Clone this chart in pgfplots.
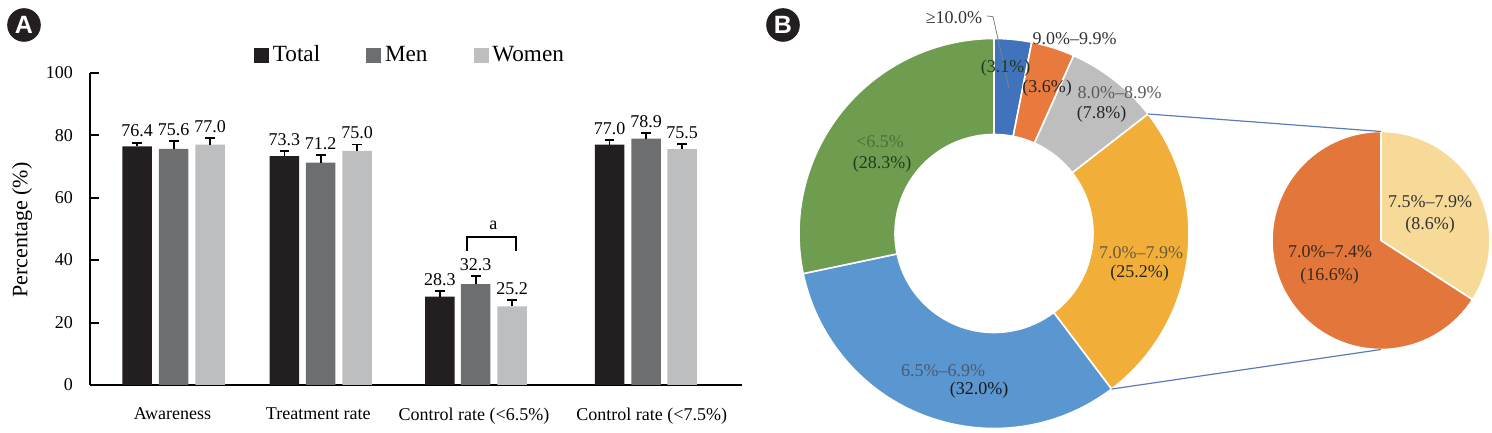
\documentclass[border=0pt]{standalone}
\usepackage{fontspec}
\setmainfont{Liberation Serif}
\newfontfamily\badgefont{Liberation Sans}
\usepackage{pgfplots}
\usepackage{pgfplotstable}
\pgfplotsset{compat=1.18}

\definecolor{cTotal}{HTML}{231F20}
\definecolor{cMen}{HTML}{6D6E70}
\definecolor{cWomen}{HTML}{BDBEC0}
\definecolor{cTen}{HTML}{4173BD}
\definecolor{cNine}{HTML}{E77A3C}
\definecolor{cEight}{HTML}{BEBEBE}
\definecolor{cSeven}{HTML}{F1AF3A}
\definecolor{cSixFive}{HTML}{5A97D0}
\definecolor{cLow}{HTML}{6E9D50}
\definecolor{cPieO}{HTML}{E3763A}
\definecolor{cPieY}{HTML}{F7DA98}
\definecolor{cLine}{HTML}{5B7DB5}

% bar data: x position (px of layout), value, upper error
\pgfplotstableread{
x y e
137.2 76.4 1.2
284.4 73.3 1.5
439.9 28.3 1.7
609.5 77.0 1.5
}\totaltab
\pgfplotstableread{
x y e
173.7 75.6 2.5
320.7 71.2 2.35
475.7 32.3 2.6
646.0 78.9 1.9
}\mentab
\pgfplotstableread{
x y e
210.2 77.0 2.1
357.0 75.0 2.0
512.2 25.2 2.1
682.2 75.5 1.7
}\womentab

% donut data (percent)
\def\pA{3.1}\def\pB{3.6}\def\pC{7.8}\def\pD{25.2}\def\pE{32.0}\def\pF{28.3}
\pgfmathsetmacro\aA{90}
\pgfmathsetmacro\aB{\aA-3.6*\pA}
\pgfmathsetmacro\aC{\aB-3.6*\pB}
\pgfmathsetmacro\aD{\aC-3.6*\pC}
\pgfmathsetmacro\aE{\aD-3.6*\pD}
\pgfmathsetmacro\aF{\aE-3.6*\pE}
\pgfmathsetmacro\aG{\aF-3.6*\pF}
% second pie data (percent of total)
\def\qA{8.6}\def\qB{16.6}
\pgfmathsetmacro\bB{90-360*\qA/(\qA+\qB)}
\pgfmathsetmacro\bC{\bB-360*\qB/(\qA+\qB)}

\newcommand\ring[3]{\filldraw[fill=#3, draw=white, line width=0.8pt] (#1:195) arc[start angle=#1, end angle=#2, radius=195] -- (#2:99) arc[start angle=#2, end angle=#1, radius=99] -- cycle;}
\newcommand\sector[3]{\filldraw[fill=#3, draw=white, line width=0.8pt] (0,0) -- (#1:109) arc[start angle=#1, end angle=#2, radius=109] -- cycle;}

\newcommand\fnine{\fontsize{9}{10.8}\selectfont}

\begin{document}
\begin{tikzpicture}
\useasboundingbox (0pt,0pt) rectangle (746pt,216.5pt);

% badges
\fill[cTotal] (12pt,204pt) circle (8.4pt);
\node[text=white, font=\badgefont\bfseries\fontsize{12.5}{12.5}\selectfont] at (12pt,204pt) {A};
\fill[cTotal] (391.5pt,204pt) circle (8.4pt);
\node[text=white, font=\badgefont\bfseries\fontsize{12.5}{12.5}\selectfont] at (391.5pt,204pt) {B};

% ---------------- Panel A ----------------
\begin{axis}[
  at={(45pt,24pt)}, anchor=south west,
  scale only axis, width=326pt, height=156.15pt,
  xmin=90, xmax=742, ymin=0, ymax=100,
  axis x line=bottom, axis y line=left,
  axis line style={line width=1pt, -},
  xtick={172.5,318.3,474,651.7},
  xticklabels={Awareness, Treatment rate, Control rate (<6.5\%), Control rate (<7.5\%)},
  x tick style={draw=none},
  ytick={0,20,40,60,80,100},
  y tick style={line width=1pt, black},
  tick align=inside,
  major tick length=4.5pt,
  xticklabel style={font=\fnine, yshift=-8pt},
  yticklabel style={font=\fnine, xshift=-5pt},
  /pgf/number format/assume math mode=true,
  ylabel={Percentage (\%)},
  ylabel style={font=\fontsize{11}{13}\selectfont, at={(axis description cs:-0.104,0.496)}, anchor=center},
  legend columns=3,
  legend style={draw=none, fill=none, at={(0.4923,1.0567)}, anchor=center,
    font=\fontsize{11.6}{13}\selectfont, /tikz/every even column/.append style={column sep=21pt}},
  clip=false,
]
\addlegendimage{legend image code/.code={\fill[cTotal] (0pt,-3.5pt) rectangle (7pt,3.5pt);}}
\addlegendentry{Total}
\addlegendimage{legend image code/.code={\fill[cMen] (0pt,-3.5pt) rectangle (7pt,3.5pt);}}
\addlegendentry{Men}
\addlegendimage{legend image code/.code={\fill[cWomen] (0pt,-3.5pt) rectangle (7pt,3.5pt);}}
\addlegendentry{Women}

\pgfplotsset{barsty/.style={ybar, bar width=29.5, bar shift=0pt, draw=none, forget plot,
  visualization depends on={\thisrow{e} \as \myerr},
  nodes near coords={\pgfmathprintnumber[fixed,fixed zerofill,precision=1]{\pgfplotspointmeta}},
  nodes near coords style={font=\fnine, text=black, anchor=south, inner sep=1.5pt, yshift={\myerr*1.5615pt+1pt}},
  error bars/y dir=plus, error bars/y explicit,
  error bars/error bar style={draw=black, line width=0.9pt},
  error bars/error mark options={draw=black, line width=0.9pt, mark size=2.4pt, rotate=90}}}

\addplot[barsty, fill=cTotal] table[x=x, y=y, y error=e]{\totaltab};
\addplot[barsty, fill=cMen] table[x=x, y=y, y error=e]{\mentab};
\addplot[barsty, fill=cWomen] table[x=x, y=y, y error=e]{\womentab};

\draw[line width=1pt] (axis cs:467,43) -- (axis cs:467,47.3) -- (axis cs:516,47.3) -- (axis cs:516,43);
\node[font=\fnine] at (axis cs:493.3,51.2) {a};
\end{axis}

% ---------------- Panel B ----------------
\begin{axis}[
  at={(380pt,0pt)}, anchor=south west,
  x=0.5pt, y=0.5pt,
  xmin=760, xmax=1492, ymin=0, ymax=433,
  hide axis, clip=false,
]
\begin{scope}[shift={(axis cs:994,199.5)}, x=0.5pt, y=0.5pt]
\ring{\aA}{\aB}{cTen}
\ring{\aB}{\aC}{cNine}
\ring{\aC}{\aD}{cEight}
\ring{\aD}{\aE}{cSeven}
\ring{\aE}{\aF}{cSixFive}
\ring{\aF}{\aG}{cLow}
\end{scope}
\begin{scope}[shift={(axis cs:1381,192.5)}, x=0.5pt, y=0.5pt]
\sector{90}{\bB}{cPieY}
\sector{\bB}{\bC}{cPieO}
\end{scope}
\draw[cLine, line width=0.6pt] (axis cs:{994+195*cos(\aD)},{199.5+195*sin(\aD)}) -- (axis cs:1381,301.5);
\draw[cLine, line width=0.6pt] (axis cs:{994+195*cos(\aE)},{199.5+195*sin(\aE)}) -- (axis cs:1381,83.5);

% labels
\draw[gray, line width=0.4pt] (axis cs:987,417) -- (axis cs:993,416.3) -- (axis cs:1009,345);
\node[font=\fnine, text=black!80] at (axis cs:954,415) {≥10.0\%};
\node[font=\fnine, text=black!80] at (axis cs:1074.7,394.7) {9.0\%–9.9\%};
\node[font=\fnine, text={rgb,255:red,32;green,53;blue,32}] at (axis cs:1005.7,365) {(3.1\%)};
\node[font=\fnine, text=black!85] at (axis cs:1047,345) {(3.6\%)};
\node[font=\fnine, text=black!65] at (axis cs:1119.5,340) {8.0\%–8.9\%};
\node[font=\fnine, text=black!85] at (axis cs:1101.5,318.7) {(7.8\%)};
\node[font=\fnine, text={rgb,255:red,79;green,111;blue,58}] at (axis cs:880,291.3) {<6.5\%};
\node[font=\fnine, text={rgb,255:red,31;green,61;blue,31}] at (axis cs:882,269) {(28.3\%)};
\node[font=\fnine, text={rgb,255:red,107;green,91;blue,58}] at (axis cs:1141,180.7) {7.0\%–7.9\%};
\node[font=\fnine, text=black!85] at (axis cs:1139.7,160.3) {(25.2\%)};
\node[font=\fnine, text={rgb,255:red,74;green,90;blue,112}] at (axis cs:943,62.3) {6.5\%–6.9\%};
\node[font=\fnine, text=black!90] at (axis cs:979,43) {(32.0\%)};
\node[font=\fnine, text=black!80] at (axis cs:1430,231.3) {7.5\%–7.9\%};
\node[font=\fnine, text=black!80] at (axis cs:1430,208) {(8.6\%)};
\node[font=\fnine, text={rgb,255:red,58;green,42;blue,26}] at (axis cs:1330,181.3) {7.0\%–7.4\%};
\node[font=\fnine, text={rgb,255:red,58;green,42;blue,26}] at (axis cs:1329.5,157) {(16.6\%)};
\end{axis}
\end{tikzpicture}
\end{document}
